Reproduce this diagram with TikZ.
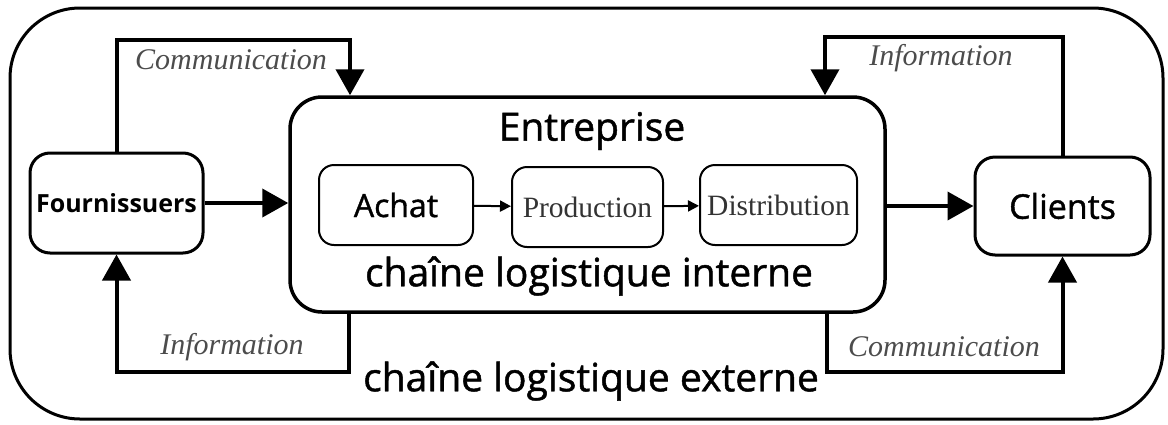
\documentclass[tikz,border=0pt]{standalone}
\usepackage{fontspec}
\setmainfont{Liberation Serif}
\setsansfont{Open Sans}
\newfontfamily\semisans{Open Sans}[FakeBold=1.2]
\usetikzlibrary{arrows.meta}

\tikzset{
    bigbox/.style={draw,line width=3pt,rounded corners=20pt},
    smallbox/.style={draw,line width=2pt,rounded corners=15pt,minimum width=154pt,minimum height=80pt,inner sep=0pt},
    flow/.style={line width=4pt,-{Triangle[length=26pt,width=28pt]}},
    smallflow/.style={line width=2pt,-{Triangle[length=11pt,width=11pt]}},
    lbl/.style={font=\fontsize{30}{34}\selectfont\itshape,text=black!70},
    bigtxt/.style={font=\semisans\fontsize{39}{44}\selectfont},
}

\begin{document}
\begin{tikzpicture}[x=1pt,y=-1pt]
    \useasboundingbox (0,0) rectangle (1168,424);
    % Draw outer frame
    \draw[line width=3pt,rounded corners=70pt] (10,8) rectangle (1163,419);

    % Draw the company box with its three steps
    \node[draw,line width=3.5pt,rounded corners=32pt,minimum width=595pt,minimum height=215pt] (ent) at (587.5,204.5) {};
    \node[bigtxt] (enttitle) at (592,131) {Entreprise};
    \node[bigtxt] (interne) at (589,276) {chaîne logistique interne};
    \node[smallbox,font=\semisans\fontsize{32}{36}\selectfont] (achat) at (396,205) {Achat};
    \node[smallbox,minimum width=151pt,font=\fontsize{29.5}{33}\selectfont,text=black!80] (prod) at (587.5,207) {Production};
    \node[smallbox,minimum width=157pt,font=\fontsize{29.5}{33}\selectfont,text=black!80] (dist) at (778.5,205) {Distribution};
    \draw[smallflow] (achat) -- (prod);
    \draw[smallflow] (prod) -- (dist);

    % Draw suppliers and customers
    \node[bigbox,minimum width=173pt,minimum height=100pt,inner sep=0pt,font=\sffamily\bfseries\fontsize{25}{29}\selectfont] (four) at (116.5,203) {Fournissuers};
    \node[bigbox,minimum width=175pt,minimum height=98pt,font=\semisans\fontsize{34}{38}\selectfont] (cli) at (1062.5,206) {Clients};

    % Corner points of the loops
    \coordinate (tl) at (350,40);
    \coordinate (tr) at (825,37);
    \coordinate (bl) at (349,372);
    \coordinate (br) at (827,372);

    % Flows
    \draw[flow] (four.east) -- (four.east -| ent.west);
    \draw[flow] (ent.east |- cli.west) -- (cli.west);
    \draw[flow] (four.north) |- (tl) -- (tl |- ent.north);
    \draw[flow] (cli.north) |- (tr) -- (tr |- ent.north);
    \draw[flow] (bl |- ent.south) -- (bl) -| (four.south);
    \draw[flow] (br |- ent.south) -- (br) -| (cli.south);

    % Labels
    \node[lbl] (comtop) at (231,60) {Communication};
    \node[lbl] (inftop) at (941,58) {Information};
    \node[lbl] (infbot) at (232,347) {Information};
    \node[lbl] (combot) at (944,347) {Communication};
    \node[bigtxt] (externe) at (591,381) {chaîne logistique externe};
\end{tikzpicture}
\end{document}
